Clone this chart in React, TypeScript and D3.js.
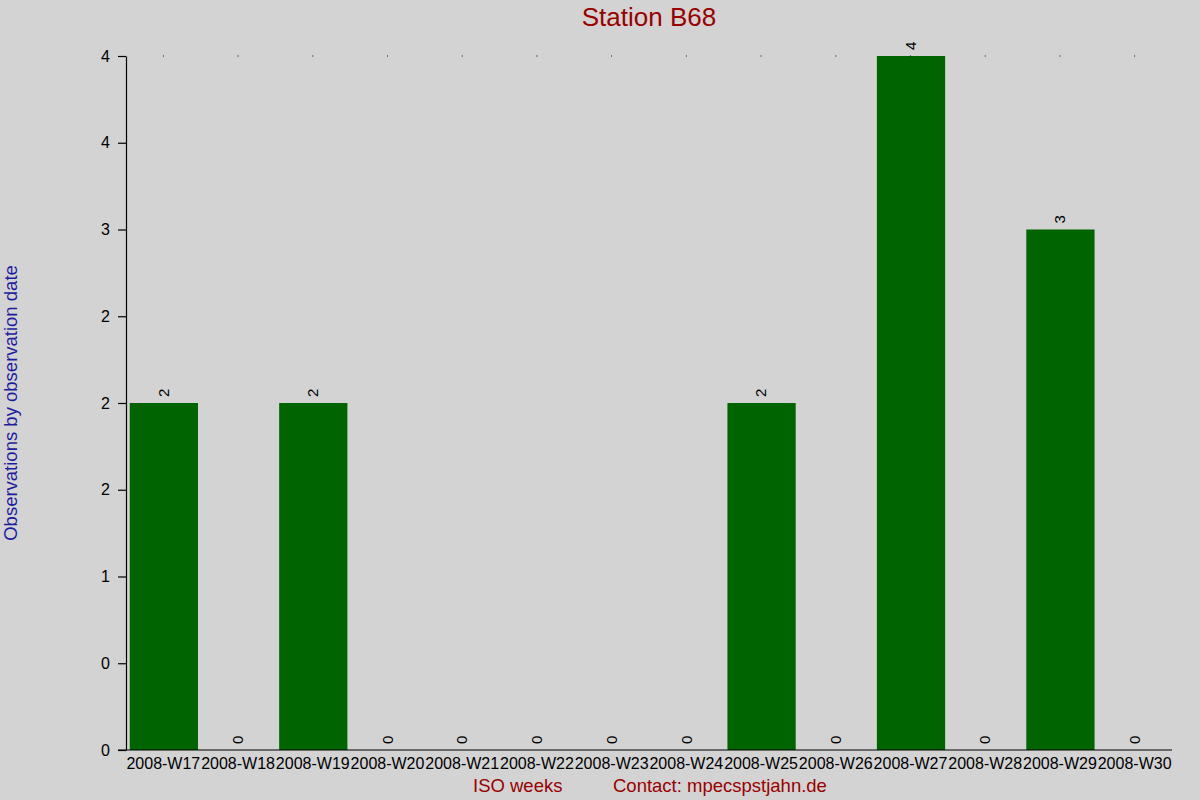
import { useEffect, useRef } from "react";
import * as d3 from "d3";

const weeks = [
  "2008-W17", "2008-W18", "2008-W19", "2008-W20", "2008-W21", "2008-W22", "2008-W23",
  "2008-W24", "2008-W25", "2008-W26", "2008-W27", "2008-W28", "2008-W29", "2008-W30",
];
const counts = [2, 0, 2, 0, 0, 0, 0, 0, 2, 0, 4, 0, 3, 0];
const yTickValues = [0, 0.5, 1, 1.5, 2, 2.5, 3, 3.5, 4];
const yTickLabels = ["0", "0", "1", "2", "2", "2", "3", "4", "4"];

const W = 1200;
const H = 800;
const left = 126;
const right = 1172;
const top = 56;
const bottom = 750;
const font = "Arial, 'Liberation Sans', sans-serif";

export default function App() {
  const svgRef = useRef<SVGSVGElement>(null);

  useEffect(() => {
    const svg = d3.select(svgRef.current);
    svg.selectAll("*").remove();

    const x = d3.scaleBand<string>()
      .domain(weeks)
      .range([left, right])
      .paddingInner(0.1)
      .paddingOuter(0.05);
    const y = d3.scaleLinear().domain([0, 4]).range([bottom, top]);

    svg.append("rect")
      .attr("width", W).attr("height", H)
      .attr("fill", "#d3d3d3");

    // bars
    svg.selectAll("rect.bar")
      .data(counts)
      .join("rect")
      .attr("class", "bar")
      .attr("x", (d, i) => x(weeks[i])!)
      .attr("width", x.bandwidth() + 1)
      .attr("y", d => y(d))
      .attr("height", d => bottom - y(d))
      .attr("fill", "#006400");

    // value labels
    svg.selectAll("text.val")
      .data(counts)
      .join("text")
      .attr("class", "val")
      .attr("transform", (d, i) =>
        `translate(${x(weeks[i])! + x.bandwidth() / 2},${y(d) - 6}) rotate(-90)`)
      .attr("dy", "0.35em")
      .attr("font-family", font)
      .attr("font-size", 15)
      .attr("fill", "#000")
      .text(d => String(d));

    // top dots
    svg.selectAll("rect.dot")
      .data(weeks)
      .join("rect")
      .attr("class", "dot")
      .attr("x", d => x(d)! + x.bandwidth() / 2 - 0.5)
      .attr("y", y(4) - 0.5)
      .attr("width", 1).attr("height", 1)
      .attr("fill", "#000");

    // y axis
    const yAxis = d3.axisLeft(y)
      .tickValues(yTickValues)
      .tickFormat((d, i) => yTickLabels[i])
      .tickSize(8)
      .tickSizeOuter(0)
      .tickPadding(8);
    const ya = svg.append("g").attr("transform", `translate(${left},0)`).call(yAxis);
    ya.select(".domain").attr("stroke", "#000").attr("stroke-width", 1.2);
    ya.selectAll("line").attr("stroke", "#000").attr("stroke-width", 1.2);
    ya.selectAll("text")
      .attr("font-family", font)
      .attr("font-size", 16)
      .attr("fill", "#000");

    // x axis
    svg.append("line")
      .attr("x1", left - 8).attr("x2", right)
      .attr("y1", bottom).attr("y2", bottom)
      .attr("stroke", "#000").attr("stroke-width", 1.2);
    svg.selectAll("text.xl")
      .data(weeks)
      .join("text")
      .attr("class", "xl")
      .attr("x", d => x(d)! + x.bandwidth() / 2)
      .attr("y", 769)
      .attr("text-anchor", "middle")
      .attr("font-family", font)
      .attr("font-size", 16)
      .attr("fill", "#000")
      .text(d => d);

    // titles
    svg.append("text")
      .attr("x", (left + right) / 2).attr("y", 26)
      .attr("text-anchor", "middle")
      .attr("font-family", font)
      .attr("font-size", 26)
      .attr("fill", "#990000")
      .text("Station B68");

    svg.append("text")
      .attr("transform", `translate(17,${(top + bottom) / 2}) rotate(-90)`)
      .attr("text-anchor", "middle")
      .attr("font-family", font)
      .attr("font-size", 18.5)
      .attr("fill", "#1c1ca0")
      .text("Observations by observation date");

    svg.append("text")
      .attr("x", 473).attr("y", 792)
      .attr("font-family", font)
      .attr("font-size", 18.5)
      .attr("fill", "#990000")
      .text("ISO weeks");

    svg.append("text")
      .attr("x", 613).attr("y", 792)
      .attr("font-family", font)
      .attr("font-size", 18.5)
      .attr("fill", "#990000")
      .text("Contact: mpecspstjahn.de");
  }, []);

  return (
    <svg
      ref={svgRef}
      width={W}
      height={H}
      style={{ display: "block", position: "absolute", left: 0, top: 0 }}
    />
  );
}
